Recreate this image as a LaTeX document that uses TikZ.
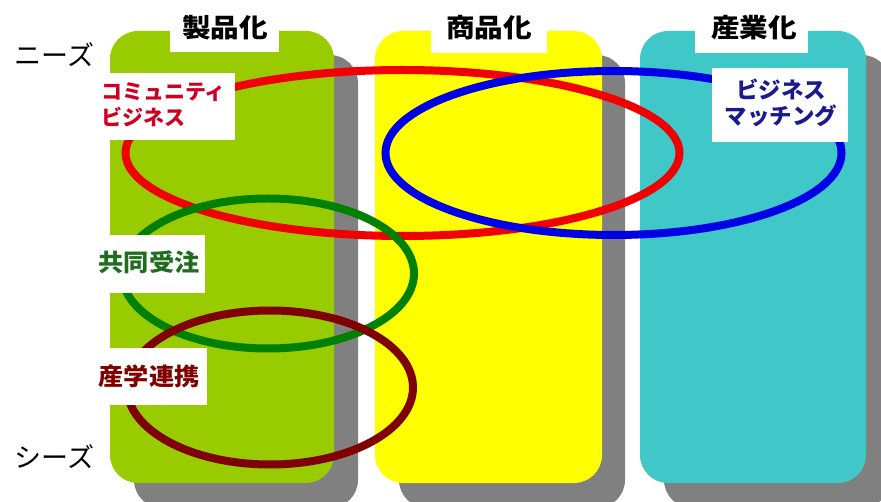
\documentclass[tikz,border=0pt]{standalone}
\usepackage{fontspec}
\usepackage{graphicx}
\newfontfamily\jp{Noto Sans CJK JP}
\definecolor{colgreen}{RGB}{153,204,0}
\definecolor{colyellow}{RGB}{255,255,0}
\definecolor{colcyan}{RGB}{64,200,200}
\definecolor{shadowgray}{RGB}{128,128,128}
\definecolor{ringred}{RGB}{240,0,0}
\definecolor{ringblue}{RGB}{0,0,230}
\definecolor{ringgreen}{RGB}{0,128,0}
\definecolor{ringmaroon}{RGB}{128,0,0}
\definecolor{txtred}{RGB}{204,0,34}
\definecolor{txtnavy}{RGB}{26,26,140}
\definecolor{txtgreen}{RGB}{30,110,30}
\definecolor{txtmaroon}{RGB}{128,0,0}
\begin{document}
\begin{tikzpicture}[x=1pt,y=-1pt,
  column/.style={rounded corners=28pt},
  colshadow/.style={fill=shadowgray, rounded corners=28pt},
  wbox/.style={fill=white, draw=none, inner sep=0pt, rectangle},
  head/.style={font=\jp\bfseries\fontsize{26}{30}\selectfont, inner sep=0pt, text=black},
  side/.style={font=\jp\fontsize{27}{30}\selectfont, inner sep=0pt, text=black},
  ring/.style={line width=8pt},
  lbl/.style={inner sep=0pt}
]
\useasboundingbox (0,0) rectangle (881,502);
\clip (0,0) rectangle (881,502);
\fill[white] (0,0) rectangle (881,502);
% shadows
\fill[colshadow] (134,55) rectangle (358,508);
\fill[colshadow] (399,55) rectangle (625,508);
\fill[colshadow] (664,55) rectangle (890,508);
% columns
\node[column, fill=colgreen, minimum width=224pt, minimum height=452pt, inner sep=0pt] (c1) at (222,257) {};
\node[column, fill=colyellow, minimum width=227pt, minimum height=452pt, inner sep=0pt] (c2) at (488.5,257) {};
\node[column, fill=colcyan, minimum width=226pt, minimum height=452pt, inner sep=0pt] (c3) at (753,257) {};
% header boxes
\node[wbox, minimum width=109pt, minimum height=52pt] (h1box) at (224.5,26) {};
\node[wbox, minimum width=116pt, minimum height=53pt] (h2box) at (489,26.5) {};
\node[wbox, minimum width=113pt, minimum height=53pt] (h3box) at (751.5,26.5) {};
\node[head] (h1) at (225,28) {\scalebox{1.1}[1]{製品化}};
\node[head] (h2) at (489,28) {\scalebox{1.1}[1]{商品化}};
\node[head] (h3) at (754,28) {\scalebox{1.1}[1]{産業化}};
% side labels
\node[side] (needs) at (54.5,55) {ニーズ};
\node[side] (seeds) at (54.5,457) {シーズ};
% rings
\draw[ring, ringred] (402.5,153) ellipse [x radius=277, y radius=83];
\draw[ring, ringblue] (613.5,153) ellipse [x radius=228, y radius=82];
\draw[ring, ringgreen] (268,273.5) ellipse [x radius=146, y radius=75];
\draw[ring, ringmaroon] (270,387.5) ellipse [x radius=143, y radius=77];
% label boxes
\node[wbox, minimum width=145pt, minimum height=67pt] (cbox) at (162.5,106.5) {};
\node[wbox, minimum width=136pt, minimum height=74pt] (mbox) at (780,105) {};
\node[wbox, minimum width=115pt, minimum height=58pt] (kbox) at (147.5,264) {};
\node[wbox, minimum width=117pt, minimum height=57pt] (sbox) at (148.5,376.5) {};
% label texts
\node[lbl, anchor=west, align=left, text=txtred, font=\jp\bfseries\fontsize{21}{26.5}\selectfont] (ctext) at (101,105) {コミュニティ\\ビジネス};
\node[lbl, align=center, text=txtnavy, font=\jp\bfseries\fontsize{22.5}{26}\selectfont] (mtext) at (781,103) {ビジネス\\マッチング};
\node[lbl, text=txtgreen, font=\jp\bfseries\fontsize{24}{28}\selectfont] (ktext) at (149,262.5) {\scalebox{1.05}[1]{共同受注}};
\node[lbl, text=txtmaroon, font=\jp\bfseries\fontsize{24}{28}\selectfont] (stext) at (149,376) {\scalebox{1.05}[1]{産学連携}};
\end{tikzpicture}
\end{document}
